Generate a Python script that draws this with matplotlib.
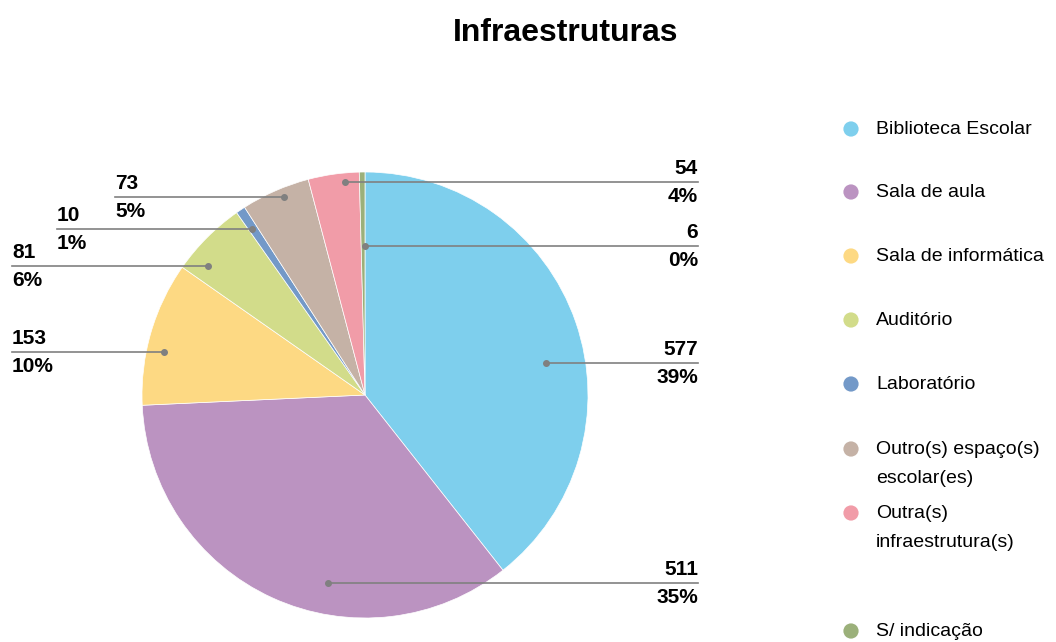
import numpy as np
from matplotlib import pyplot as plt

categories = ['Biblioteca Escolar', 'Sala de aula', 'Sala de informática', 'Auditório',
              'Laboratório', 'Outro(s) espaço(s)\nescolar(es)', 'Outra(s)\ninfraestrutura(s)',
              'S/ indicação']
values = [577, 511, 153, 81, 10, 73, 54, 6]
colors = ['#7ecfed', '#bb93c1', '#fdd983', '#d2dc8a', '#7399c8', '#c5b2a6', '#f19ca8', '#9bb07a']

plt.rcParams['font.family'] = ['Liberation Sans', 'DejaVu Sans']

W, H = 1056, 642
fig = plt.figure(figsize=(W / 100, H / 100), dpi=100)
ax = fig.add_axes([0, 0, 1, 1])

cx, cy, r = 365, H - 395, 223
wedges, _ = ax.pie(values, colors=colors, startangle=90, counterclock=False,
                   center=(cx, cy), radius=r,
                   wedgeprops=dict(edgecolor='white', linewidth=0.5))
ax.set_xlim(0, W)
ax.set_ylim(0, H)
ax.set_aspect('equal')
ax.axis('off')

total = sum(values)
# label layout: (angle shift, radius fraction, side, end x)
layout = [(-9, 0.825, 'r', 698), (13.6, 0.86, 'r', 698), (4, 0.92, 'l', 12),
          (5.4, 0.91, 'l', 12), (0.5, 0.90, 'l', 57), (-1.6, 0.96, 'l', 115),
          (-2.7, 0.96, 'r', 698), (-0.7, 0.67, 'r', 698)]
for w, v, (da, fr, side, xe) in zip(wedges, values, layout):
    ang = np.deg2rad((w.theta1 + w.theta2) / 2 + da)
    px, py = cx + fr * r * np.cos(ang), cy + fr * r * np.sin(ang)
    ax.plot([px, xe], [py, py], color='#808080', linewidth=1.2, zorder=3)
    ax.plot(px, py, 'o', color='#808080', markersize=4, zorder=4)
    ha = 'right' if side == 'r' else 'left'
    ax.text(xe, py + 4, str(v), ha=ha, va='bottom', fontsize=15, fontweight='bold')
    ax.text(xe, py - 5, f'{v / total:.0%}', ha=ha, va='top', fontsize=15, fontweight='bold')

# legend
leg_y = [129, 192, 256, 320, 384, 449, 513, 631]
for c, lab, yy in zip(colors, categories, leg_y):
    ax.scatter(851, H - yy, s=120, color=c, edgecolors='none')
    ax.text(876, H - yy + 8, lab, ha='left', va='top', fontsize=14, linespacing=1.95)

ax.text(566, H - 33, 'Infraestruturas', ha='center', va='center', fontsize=23, fontweight='bold')

fig.savefig('out.png', dpi=100)
